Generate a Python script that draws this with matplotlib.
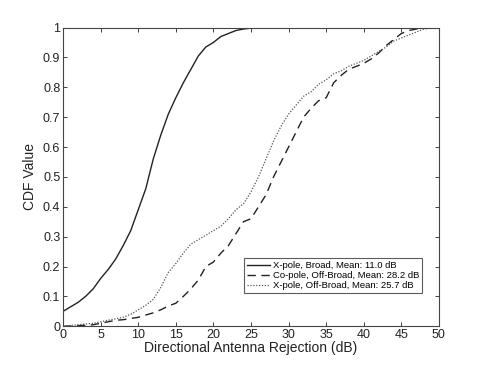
import matplotlib
matplotlib.use("Agg")
import matplotlib.pyplot as plt

plt.rcParams['font.family'] = ['Liberation Sans', 'DejaVu Sans']

x_solid = [0, 1, 2, 3, 4, 5, 6, 7, 8, 9, 10, 11, 12, 13, 14, 15, 16, 17, 18, 19, 20,
           21, 22, 23, 24, 25, 27, 28, 30]
y_solid = [0.05, 0.065, 0.08, 0.10, 0.125, 0.16, 0.19, 0.225, 0.27, 0.32, 0.39, 0.46,
           0.56, 0.64, 0.71, 0.765, 0.815, 0.86, 0.905, 0.935, 0.95, 0.97, 0.98, 0.99,
           0.995, 0.998, 0.999, 0.999, 1.0]

x_dash = [0, 2, 4, 5, 6, 7, 8, 10, 12, 13, 14, 15, 16, 17, 18, 19, 20, 21, 22, 23, 24,
          25, 26, 27, 28, 29, 30, 31, 32, 33, 34, 35, 36, 37, 38, 39, 40, 41, 42, 43,
          44, 45, 46, 47, 48, 50]
y_dash = [0.0, 0.002, 0.005, 0.01, 0.015, 0.02, 0.022, 0.03, 0.045, 0.055, 0.068, 0.077,
          0.1, 0.125, 0.155, 0.2, 0.215, 0.245, 0.27, 0.31, 0.35, 0.36, 0.4, 0.44, 0.5,
          0.55, 0.6, 0.65, 0.7, 0.73, 0.755, 0.765, 0.815, 0.84, 0.86, 0.87, 0.88, 0.895,
          0.915, 0.94, 0.96, 0.98, 0.99, 0.995, 1.0, 1.0]

x_dot = [0, 2, 4, 5, 6, 7, 8, 9, 10, 11, 12, 13, 14, 15, 16, 17, 18, 19, 20, 21, 22, 23,
         24, 25, 26, 27, 28, 29, 30, 31, 32, 33, 34, 35, 36, 37, 38, 39, 40, 41, 42, 43,
         44, 45, 46, 47, 48, 49, 50]
y_dot = [0.0, 0.005, 0.01, 0.015, 0.02, 0.025, 0.03, 0.04, 0.055, 0.07, 0.09, 0.13, 0.18,
         0.21, 0.245, 0.275, 0.29, 0.305, 0.32, 0.335, 0.36, 0.39, 0.41, 0.45, 0.5, 0.56,
         0.62, 0.67, 0.71, 0.74, 0.77, 0.785, 0.81, 0.825, 0.845, 0.855, 0.87, 0.88, 0.89,
         0.905, 0.92, 0.935, 0.955, 0.965, 0.975, 0.985, 0.995, 0.998, 1.0]

labels = ["X-pole, Broad, Mean: 11.0 dB",
          "Co-pole, Off-Broad, Mean: 28.2 dB",
          "X-pole, Off-Broad, Mean: 25.7 dB"]

xticks = list(range(0, 51, 5))
yticks = [0, 0.1, 0.2, 0.3, 0.4, 0.5, 0.6, 0.7, 0.8, 0.9, 1]
yticklabels = ["0", "0.1", "0.2", "0.3", "0.4", "0.5", "0.6", "0.7", "0.8", "0.9", "1"]

fig = plt.figure(figsize=(4.85, 3.67), dpi=100)
ax = fig.add_axes([0.130, 0.111, 0.775, 0.814])

ax.plot(x_solid, y_solid, color='#222222', lw=1.0, ls='-', label=labels[0])
ax.plot(x_dash, y_dash, color='#222222', lw=1.0, ls=(0, (6, 4)), label=labels[1])
ax.plot(x_dot, y_dot, color='#555555', lw=0.9, ls=(0, (1, 1.3)), label=labels[2])

ax.set_xlim(0, 50)
ax.set_ylim(0, 1)
ax.set_xticks(xticks)
ax.set_yticks(yticks)
ax.set_yticklabels(yticklabels)
ax.tick_params(direction='in', top=True, right=True, labelsize=9, length=3, width=0.6,
               colors='#222222', pad=2)
for s in ax.spines.values():
    s.set_linewidth(0.8)
    s.set_color('#444444')

ax.set_xlabel("Directional Antenna Rejection (dB)", fontsize=10, labelpad=0, color='#222222')
ax.set_ylabel("CDF Value", fontsize=10, labelpad=4, color='#222222')

leg = ax.legend(loc='upper left', bbox_to_anchor=(0.481, 0.228), fontsize=6.8,
                frameon=True, fancybox=False, edgecolor='#333333', handlelength=2.5,
                handletextpad=0.3, borderpad=0.3, labelspacing=0.1, borderaxespad=0)
leg.get_frame().set_linewidth(0.8)

fig.savefig("out.png", dpi=100)
